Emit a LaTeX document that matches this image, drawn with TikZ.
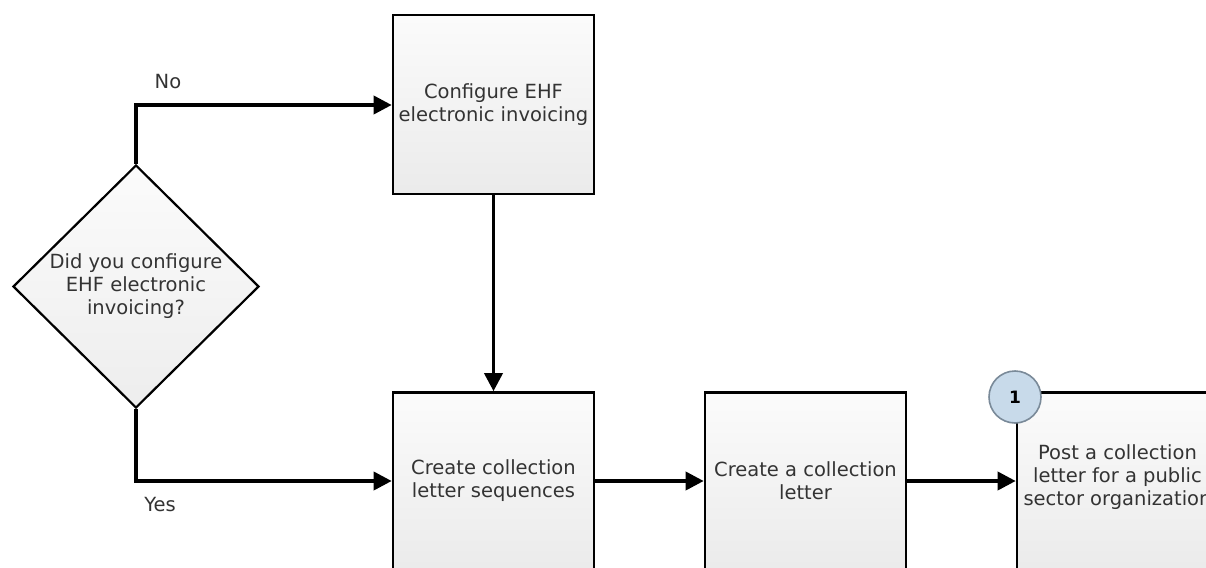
\documentclass[tikz,border=0pt]{standalone}
\usepackage{fontspec}
\setmainfont{DejaVu Sans}
\usetikzlibrary{arrows.meta,shapes.geometric}
\definecolor{txt}{HTML}{333333}
\definecolor{circfill}{HTML}{C8DAEA}
\definecolor{circdraw}{HTML}{7A8A99}
\tikzset{
  procbox/.style={draw=black, line width=2.6pt, rectangle, minimum width=201pt, minimum height=179pt,
    top color=white!98.5!black, bottom color=white!92!black, inner sep=0pt},
  decbox/.style={draw=black, line width=2.2pt, diamond, minimum width=246pt, minimum height=243pt,
    top color=white!98.5!black, bottom color=white!93!black, inner sep=0pt, aspect=1.0},
  lbl/.style={font=\fontsize{19.5}{23}\selectfont, text=txt, align=center},
  flow/.style={line width=3.6pt, -{Triangle[length=18pt,width=18pt]}},
  badge/.style={circle, draw=circdraw, line width=1.6pt, fill=circfill, minimum size=52pt, inner sep=0pt,
    font=\fontsize{17}{20}\selectfont\bfseries}
}
\begin{document}
\begin{tikzpicture}[x=1pt,y=-1pt]
\useasboundingbox (0,0) rectangle (1206,567);
\clip (0,0) rectangle (1206,567);
\fill[white] (0,0) rectangle (1206,567);
% nodes
\node[decbox] (dec) at (136,286.5) {};
\node[lbl] at (dec.center) {Did you configure\\EHF electronic\\invoicing?};
\node[procbox] (cfg) at (493.5,104.5) {};
\node[lbl] at (cfg.center) {Configure EHF\\electronic invoicing};
\node[procbox] (seq) at (493.5,482) {};
\node[lbl] at (493.5,481) {Create collection\\letter sequences};
\node[procbox] (let) at (805.5,482) {};
\node[lbl] at (805.5,481) {Create a collection\\letter};
\node[procbox] (post) at (1117.5,482) {};
\node[lbl] at (1117.5,477) {Post a collection\\letter for a public\\sector organization};
\node[badge] (one) at (1015,397) {1};
% connectors
\coordinate (nocorner) at (136,105);
\coordinate (yescorner) at (136,481);
\draw[flow] (dec.north) -- (nocorner) -- (cfg.west |- nocorner);
\draw[flow] (dec.south) -- (yescorner) -- (seq.west |- yescorner);
\draw[flow] (cfg.south) -- (seq.north);
\draw[flow] (seq.east |- yescorner) -- (let.west |- yescorner);
\draw[flow] (let.east |- yescorner) -- (post.west |- yescorner);
% labels
\node[lbl] (no) at (168,82) {No};
\node[lbl] (yes) at (160,505) {Yes};
\end{tikzpicture}
\end{document}
